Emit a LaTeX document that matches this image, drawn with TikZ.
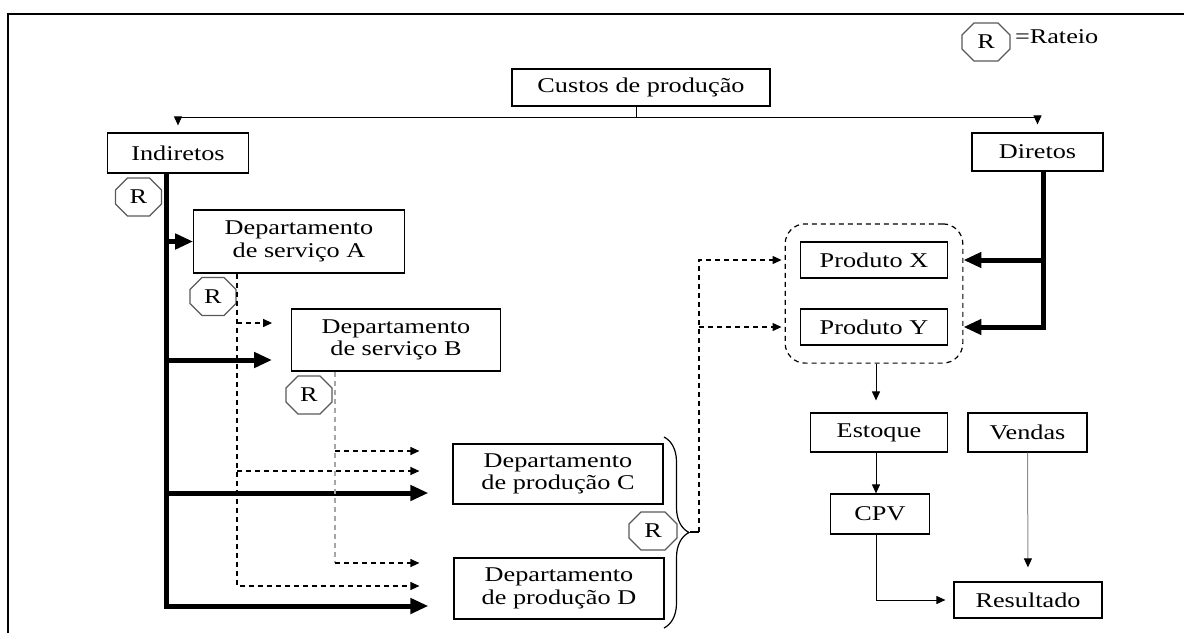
\documentclass[tikz,border=0pt]{standalone}
\usepackage{fontspec}
\setmainfont[FakeStretch=1.25]{Liberation Serif}
\usetikzlibrary{arrows.meta,positioning,fit,shapes.misc,decorations.pathreplacing,math}

\tikzset{
  caixa/.style={draw, line width=0.6pt, inner sep=0pt, align=center},
  rateio/.style={chamfered rectangle, chamfered rectangle xsep=3pt,
    chamfered rectangle ysep=3pt, draw=black!65, line width=0.6pt,
    minimum width=23pt, minimum height=19pt, inner sep=0pt},
  seta/.style={line width=0.5pt, -{Triangle[length=4.5pt,width=4pt]}},
  grossa/.style={line width=2.5pt},
  setagrossa/.style={grossa, -{Triangle[length=9pt,width=7.5pt]}},
  tracejada/.style={line width=0.6pt, dash pattern=on 2.5pt off 2pt},
  setatracejada/.style={tracejada, -{Triangle[length=4.5pt,width=4pt]}},
}

\begin{document}
\begin{tikzpicture}[x=0.5pt, y=-0.5pt, font=\fontsize{10.5}{11.3}\selectfont]
  % 坐标 (像素)
  \tikzmath{
    \spinex = 166.5; \railAx = 237; \railBx = 335; \dirx = 1043; \eixox = 876;
  }
  \useasboundingbox (0,0) rectangle (1184,633);
  % 边框
  \draw[line width=1pt] (8,633) -- (8,14) -- (1184,14);

  % 图例
  \node[rateio, minimum width=24pt] (legenda) at (986,42) {R};
  \node[right=2pt of legenda, yshift=2.5pt, inner sep=0pt] (legtexto) {=Rateio};

  % 盒子
  \node[caixa, minimum width=129pt, minimum height=18.5pt] (custos) at (641,87.5) {Custos de produção};
  \node[caixa, minimum width=70.75pt, minimum height=20pt] (ind) at (178,153) {Indiretos};
  \node[caixa, minimum width=65.5pt, minimum height=19pt] (dir) at (1037.5,152) {Diretos};
  \node[caixa, minimum width=105.25pt, minimum height=31.5pt] (dA) at (299,241.5) {Departamento\\de serviço A};
  \node[caixa, minimum width=104.8pt, minimum height=31pt] (dB) at (396,340) {Departamento\\de serviço B};
  \node[caixa, minimum width=105pt, minimum height=30pt] (dC) at (558,474) {Departamento\\de produção C};
  \node[caixa, minimum width=105pt, minimum height=30.5pt] (dD) at (559,588.5) {Departamento\\de produção D};
  \node[caixa, minimum width=73.25pt, minimum height=18pt] (pX) at (874,260) {Produto X};
  \node[caixa, minimum width=73.25pt, minimum height=18pt] (pY) at (874,327) {Produto Y};
  \node[draw, tracejada, rounded corners=10pt, fit=(pX)(pY), inner xsep=7.5pt, inner ysep=8.75pt] (grupo) {};
  \node[caixa, minimum width=68.75pt, minimum height=19.5pt] (est) at (879,432.5) {Estoque};
  \node[caixa, minimum width=59.5pt, minimum height=19.5pt] (ven) at (1027.5,432.5) {Vendas};
  \node[caixa, minimum width=49.25pt, minimum height=20pt] (cpv) at (880,514) {CPV};
  \node[caixa, minimum width=74pt, minimum height=18pt] (res) at (1028,600) {Resultado};

  % 八边形 R
  \node[rateio] (rInd) at (138.5,197) {R};
  \node[rateio] (rA) at (213,296.5) {R};
  \node[rateio] (rB) at (309,395) {R};
  \node[rateio, minimum width=24pt] (rCD) at (653,531) {R};

  % 分支
  \coordinate (split) at (636.5,117);
  \draw[seta, shorten >=3.5pt] (custos.south -| split) -- (split) -| (ind.north);
  \draw[seta, shorten >=4pt] (split) -| (dir.north);

  % 间接成本主干
  \coordinate (spine) at (\spinex,173);
  \draw[setagrossa] (spine |- dA.west) -- (dA.west);
  \draw[setagrossa, shorten >=9.25pt] ([yshift=-10pt]dB.west -| spine) -- ([yshift=-10pt]dB.west);
  \draw[setagrossa, shorten >=12pt] ([yshift=-9.5pt]dC.west -| spine) -- ([yshift=-9.5pt]dC.west);
  \draw[setagrossa, shorten >=12.5pt] (ind.south -| spine) |- ([yshift=-8.75pt]dD.west);

  % 服务部门 A 的分摊
  \coordinate (railA) at (\railAx,273);
  \draw[setatracejada, shorten >=9.25pt] ([yshift=8.5pt]dB.west -| railA) -- ([yshift=8.5pt]dB.west);
  \draw[setatracejada, shorten >=16.5pt] ([yshift=1.5pt]dC.west -| railA) -- ([yshift=1.5pt]dC.west);
  \draw[setatracejada, shorten >=17pt] (dA.south -| railA) |- ([yshift=1.25pt]dD.west);

  % 服务部门 B 的分摊
  \coordinate (railB) at (\railBx,371);
  \draw[tracejada, draw=black!35] (dB.south -| railB) -- ([yshift=12.75pt]dD.west -| railB);
  \draw[setatracejada, shorten >=16.5pt] ([yshift=11.5pt]dC.west -| railB) -- ([yshift=11.5pt]dC.west);
  \draw[setatracejada, shorten >=17pt] ([yshift=12.75pt]dD.west -| railB) -- ([yshift=12.75pt]dD.west);

  % 生产部门的分摊 (大括号)
  \draw[line width=0.6pt, decorate, decoration={brace, amplitude=12.5pt}] (664,437) -- (664,628);
  \coordinate (bracetip) at (690,532);
  \coordinate (dashfoot) at (699,532);
  \draw[line width=0.6pt] (bracetip) -- (dashfoot);
  \draw[setatracejada, shorten >=1.5pt] (dashfoot) |- (grupo.west |- pX);
  \draw[setatracejada, shorten >=1.5pt] (dashfoot |- pY) -- (grupo.west |- pY);

  % 直接成本
  \coordinate (dirtop) at (\dirx,171);
  \draw[setagrossa] (dirtop) |- (grupo.east |- pY);
  \draw[setagrossa] (dirtop |- pX) -- (grupo.east |- pX);

  % 产品到结果
  \coordinate (eixo) at (\eixox,0);
  \draw[seta, shorten >=6pt] (grupo.south -| eixo) -- (est.north -| eixo);
  \draw[seta] (est.south -| eixo) -- (cpv.north -| eixo);
  \draw[seta, shorten >=4pt] (cpv.south -| eixo) |- (res.west);
  \draw[line width=0.5pt, draw=black!45, -{Triangle[length=4.5pt,width=4pt,color=black]}, shorten >=7pt] (ven.south) -- (res.north);
\end{tikzpicture}
\end{document}
